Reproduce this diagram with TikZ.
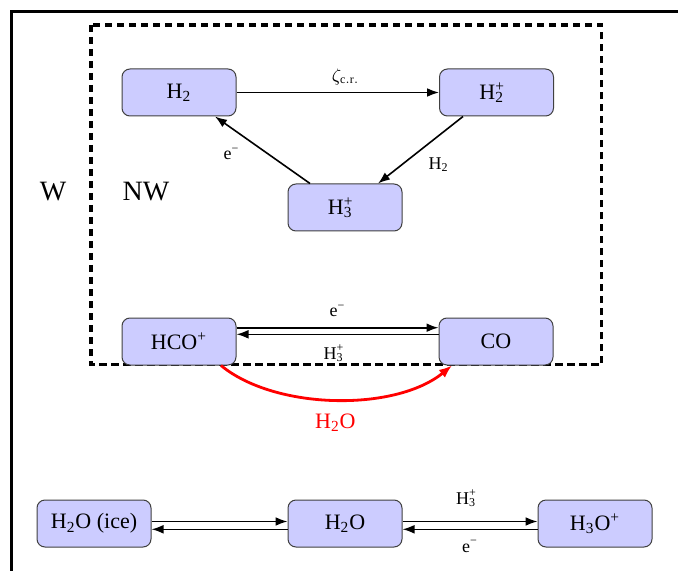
\documentclass[tikz,border=0pt]{standalone}
\usepackage{fontspec}
\setmainfont{Liberation Serif}
\usetikzlibrary{arrows.meta}
\newcommand{\Hthree}{H\rlap{\textsuperscript{+}}\textsubscript{3}\hphantom{\textsuperscript{+}}}
\newcommand{\Htwop}{H\rlap{\textsuperscript{+}}\textsubscript{2}\hphantom{\textsuperscript{+}}}
\newcommand{\emin}{e\textsuperscript{−}}
\begin{document}
\begin{tikzpicture}[x=0.5pt,y=-0.5pt,
  species/.style={draw=black!75, fill=blue!20, rounded corners=4pt, minimum width=57pt, minimum height=23.5pt, inner sep=0pt, line width=0.5pt, font=\fontsize{11}{13}\selectfont},
  conn/.style={line width=0.8pt, -{Latex[length=6pt,width=4.4pt]}},
  lbl/.style={font=\fontsize{9}{11}\selectfont, inner sep=0pt},
  big/.style={font=\fontsize{14}{16}\selectfont, inner sep=0pt}]
\useasboundingbox (0,0) rectangle (678,571);
% frame
\draw[line width=1.6pt] (11.7,575) -- (11.7,11.7) -- (682,11.7);
% dashed region
\draw[line width=1.7pt, dash pattern=on 3.6pt off 2.4pt] (91,25) rectangle (601.7,364.7);
\node[big] (W) at (53,192) {W};
\node[big] (NW) at (146,192) {NW};
% nodes
\node[species] (H2) at (179,92.5) {H\textsubscript{2}};
\node[species] (H2p) at (496.5,92.5) {\Htwop};
\node[species] (H3p) at (345,207.5) {\Hthree};
\node[species] (HCO) at (179,341.5) {HCO\textsuperscript{+}};
\node[species] (CO) at (496,341.5) {CO};
\node[species] (ice) at (94,523.5) {H\textsubscript{2}O (ice)};
\node[species] (H2O) at (345,523.5) {H\textsubscript{2}O};
\node[species] (H3O) at (595,523.5) {H\textsubscript{3}O\textsuperscript{+}};
% triangle
\draw[conn] (H2) -- node[lbl, midway, xshift=4pt, yshift=7.5pt] {$\zeta_{\mathrm{c.r.}}$} (H2p);
\draw[conn] ([xshift=-16.75pt]H2p.south) -- node[lbl, midway, xshift=9pt, yshift=-7.5pt] {H\textsubscript{2}} ([xshift=16.5pt]H3p.north);
\draw[conn] ([xshift=-17.5pt]H3p.north) -- node[lbl, midway, xshift=-15.5pt, yshift=-2pt] {\emin} ([xshift=18pt]H2.south);
% HCO+ <-> CO
\draw[conn] ([yshift=6.9pt]HCO.east) -- node[lbl, midway, above=5pt] {\emin} ([yshift=6.9pt]CO.west);
\draw[conn] ([yshift=3.6pt]CO.west) -- node[lbl, midway, below=5pt] {\Hthree} ([yshift=3.6pt]HCO.east);
% red H2O
\draw[red, line width=1.4pt, -{Latex[length=6.5pt,width=5pt]}] ([xshift=21pt]HCO.south) .. controls (275,410) and (395,412) .. node[midway, below=6.5pt, font=\fontsize{11}{13}\selectfont, inner sep=0pt] {H\textsubscript{2}O} ([xshift=-22pt]CO.south);
% bottom row
\draw[conn] ([yshift=1pt]ice.east) -- ([yshift=1pt]H2O.west);
\draw[conn] ([yshift=-2.9pt]H2O.west) -- ([yshift=-2.9pt]ice.east);
\draw[conn] ([yshift=1pt]H2O.east) -- node[lbl, midway, above=7pt] {\Hthree} ([yshift=1pt]H3O.west);
\draw[conn] ([yshift=-2.9pt]H3O.west) -- node[lbl, midway, below=5pt] {\emin} ([yshift=-2.9pt]H2O.east);
\end{tikzpicture}
\end{document}
